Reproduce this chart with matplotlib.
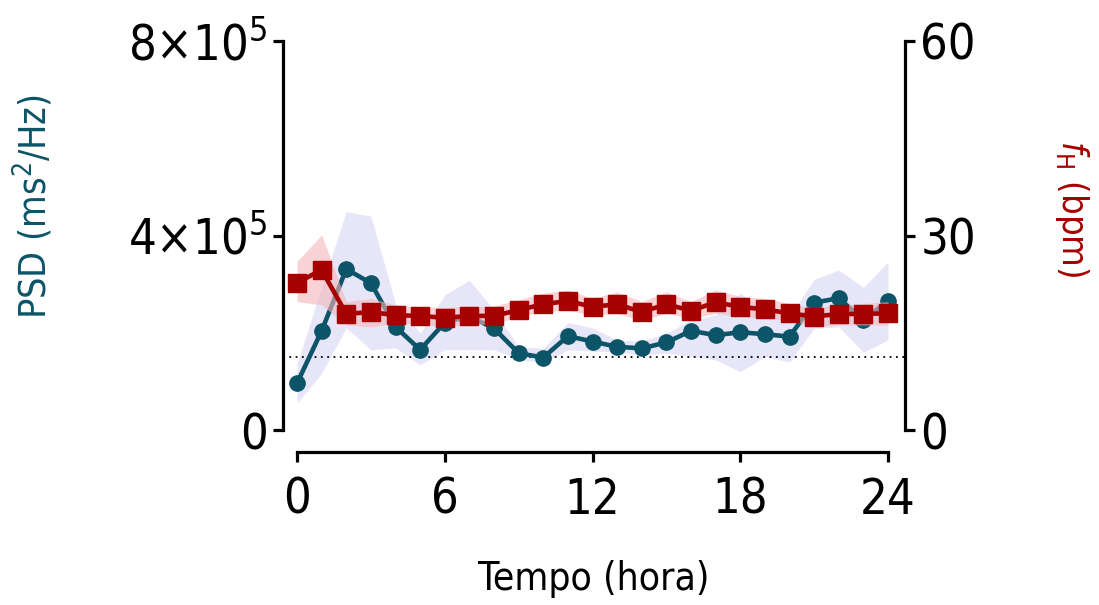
import numpy as np
import matplotlib
matplotlib.use('Agg')
import matplotlib.pyplot as plt

# DejaVu Sans Condensed is installed; use it everywhere, mathtext included
plt.rcParams['font.family'] = ['DejaVu Sans']
plt.rcParams['font.stretch'] = 'condensed'
plt.rcParams['mathtext.fontset'] = 'custom'
plt.rcParams['mathtext.rm'] = 'DejaVu Sans:stretch=condensed'
plt.rcParams['mathtext.it'] = 'DejaVu Sans:italic:stretch=condensed'

# data
hours = np.arange(0, 25)
psd = [0.96, 2.04, 3.31, 3.02, 2.12, 1.65, 2.21, 2.34, 2.09, 1.58, 1.49, 1.93, 1.82,
       1.71, 1.68, 1.80, 2.04, 1.95, 2.01, 1.97, 1.92, 2.62, 2.71, 2.26, 2.66]
psd_hi = [1.35, 2.95, 4.49, 4.40, 2.60, 1.99, 2.78, 3.08, 2.47, 1.71, 1.68, 2.21, 2.10,
          1.85, 1.83, 1.99, 2.26, 2.37, 2.81, 2.47, 2.33, 3.10, 3.29, 2.93, 3.46]
psd_lo = [0.55, 1.17, 2.10, 1.65, 1.69, 1.34, 1.65, 1.65, 1.65, 1.45, 1.38, 1.65, 1.62,
          1.61, 1.54, 1.58, 1.51, 1.44, 1.20, 1.51, 1.40, 2.09, 2.12, 1.60, 1.85]
fh = [22.7, 24.7, 17.9, 18.2, 17.7, 17.6, 17.3, 17.6, 17.6, 18.5, 19.4, 19.9, 19.0,
      19.4, 18.2, 19.4, 18.4, 19.7, 19.0, 18.6, 18.0, 17.5, 17.9, 17.9, 18.0]
fh_hi = [26.0, 30.1, 19.8, 20.3, 19.3, 19.0, 18.9, 19.1, 19.1, 20.1, 21.1, 21.6, 20.3,
         21.3, 19.8, 21.3, 19.8, 21.6, 20.6, 20.3, 19.5, 18.8, 19.3, 19.5, 19.8]
fh_lo = [19.8, 19.3, 16.2, 15.9, 16.5, 16.3, 15.9, 16.3, 16.3, 17.5, 18.2, 18.5, 17.7,
         18.0, 16.9, 18.0, 17.2, 18.0, 17.5, 17.2, 16.9, 15.9, 16.2, 16.2, 16.2]
psd_ref = 1.5  # dotted reference line (x10^5)

x_ticks = [0, 6, 12, 18, 24]
psd_ticks = [0, 4e5, 8e5]
psd_ticklabels = ['0', r'4$\times$10$^{5}$', r'8$\times$10$^{5}$']
fh_ticks = [0, 30, 60]

psd = np.array(psd) * 1e5
psd_hi = np.array(psd_hi) * 1e5
psd_lo = np.array(psd_lo) * 1e5

teal = '#0c5467'
red = '#a60000'

fig = plt.figure(figsize=(10.99, 6.05), dpi=100)
ax = fig.add_axes([283/1099, 1 - 430/605, (905 - 283)/1099, (430 - 41)/605])
ax2 = ax.twinx()

ax.fill_between(hours, psd_lo, psd_hi, color='#e6e6f8', lw=0, zorder=1)
ax.axhline(psd_ref * 1e5, color='black', ls=(0, (1, 2.5)), lw=1.3, zorder=2)
ax.plot(hours, psd, color=teal, lw=3.3, marker='o', ms=11, clip_on=False, zorder=3)

ax2.fill_between(hours, fh_lo, fh_hi, color='#f5b5ba', alpha=0.6, lw=0, zorder=1)
ax2.plot(hours, fh, color=red, lw=3.3, marker='s', ms=12.5, clip_on=False, zorder=3)

ax.set_xlim(-0.57, 24.69)
ax.set_ylim(0, 8e5)
ax2.set_ylim(0, 60)

ax.set_xticks(x_ticks)
ax.set_yticks(psd_ticks)
ax.set_yticklabels(psd_ticklabels)
ax2.set_yticks(fh_ticks)

for s in ['top', 'right']:
    ax.spines[s].set_visible(False)
for s in ['top', 'left', 'bottom']:
    ax2.spines[s].set_visible(False)
ax.spines['bottom'].set_position(('outward', 16))
ax.spines['bottom'].set_bounds(0, 24)
for sp in [ax.spines['left'], ax.spines['bottom'], ax2.spines['right']]:
    sp.set_linewidth(2.3)

ax.tick_params(axis='x', width=2.3, length=7, labelsize=35, pad=10)
ax.tick_params(axis='y', width=2.3, length=7, labelsize=35, pad=4)
ax2.tick_params(axis='y', width=2.3, length=7, labelsize=35, pad=4)

ax.set_xlabel('Tempo (hora)', fontsize=28, labelpad=26)
ax.set_ylabel('PSD (ms$^{2}$/Hz)', fontsize=27, color=teal, va='center')
ax.yaxis.set_label_coords(-0.402, 0.573)
ax2.set_ylabel('$f_{\\mathrm{H}}$ (bpm)', fontsize=26, color=red, rotation=270, va='center')
ax2.yaxis.set_label_coords(1.2685, 0.568)

plt.savefig('out.png', dpi=100)
